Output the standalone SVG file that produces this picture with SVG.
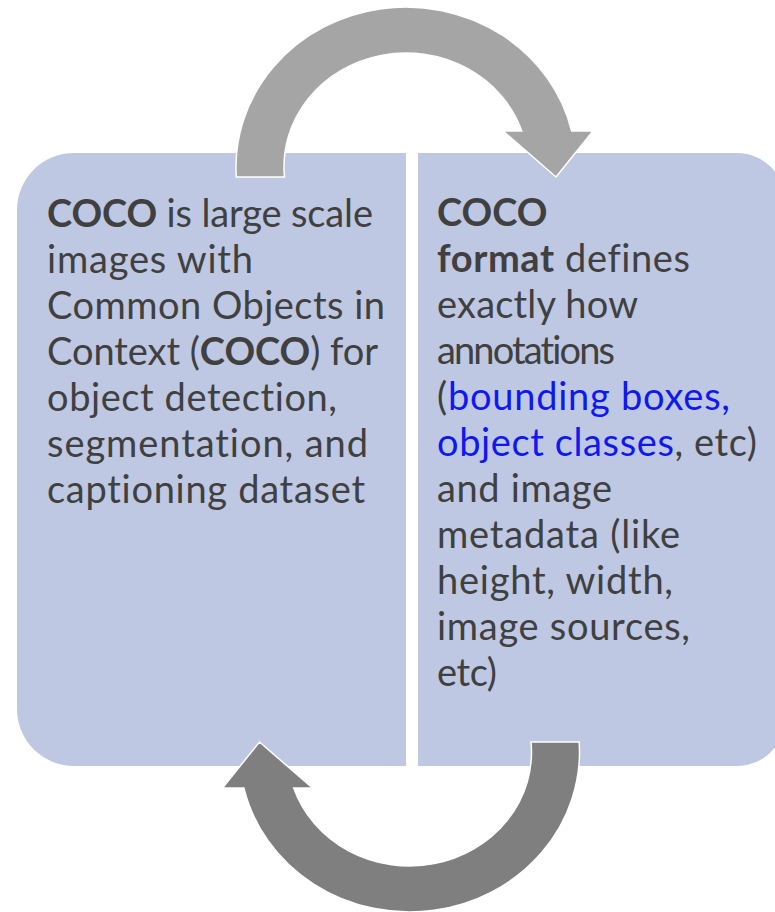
<svg xmlns="http://www.w3.org/2000/svg" width="775" height="912" viewBox="0 0 775 912">
  <style>
    .panel { fill: #BEC8E2; }
    .txt { font-family: Lato, "Open Sans", "Liberation Sans", sans-serif; font-size: 38px; fill: #404040; font-variant-ligatures: none; }
    .b { font-weight: bold; }
    .link { fill: #0F18F0; }
    .arrow { stroke: #FFFFFF; stroke-width: 1.5; stroke-linejoin: miter; }
  </style>
  <defs>
    <!-- curved block arrow, drawn round its own ellipse centre -->
    <path id="arc-arrow" d="M -169.67,10 A 170 160 0 0 1 165.64,-36 L 187,-36 L 150,10 L 97,-36 L 115.76,-36 A 122 114 0 0 0 -121.53,10 Z"/>
  </defs>

  <g id="node-coco-dataset">
    <path class="panel" d="M 74,153 H 406 V 766 H 74 A 57 57 0 0 1 17,709 V 210 A 57 57 0 0 1 74,153 Z"/>
    <text class="txt" x="47" y="227" textLength="326" lengthAdjust="spacing"><tspan class="b">COCO</tspan> is large scale</text>
    <text class="txt" x="47" y="273" textLength="206" lengthAdjust="spacing">images with</text>
    <text class="txt" x="47" y="319" textLength="338" lengthAdjust="spacing">Common Objects in</text>
    <text class="txt" x="47" y="365" textLength="331" lengthAdjust="spacing">Context (<tspan class="b">COCO</tspan>) for</text>
    <text class="txt" x="47" y="411" textLength="290" lengthAdjust="spacing">object detection,</text>
    <text class="txt" x="47" y="457" textLength="321" lengthAdjust="spacing">segmentation, and</text>
    <text class="txt" x="47" y="503" textLength="318" lengthAdjust="spacing">captioning dataset</text>
  </g>

  <g id="node-coco-format">
    <path class="panel" d="M 418,153 H 737 A 48 48 0 0 1 785,201 V 718 A 48 48 0 0 1 737,766 H 418 Z"/>
    <text class="txt b" x="437" y="226">COCO</text>
    <text class="txt" x="437" y="272" textLength="253" lengthAdjust="spacing"><tspan class="b">format</tspan> defines</text>
    <text class="txt" x="437" y="318" textLength="201" lengthAdjust="spacing">exactly how</text>
    <text class="txt" x="437" y="364" textLength="178" lengthAdjust="spacing">annotations</text>
    <text class="txt" x="437" y="410" textLength="293" lengthAdjust="spacing">(<tspan class="link">bounding boxes,</tspan></text>
    <text class="txt" x="437" y="456" textLength="320" lengthAdjust="spacing"><tspan class="link">object classes</tspan>, etc)</text>
    <text class="txt" x="437" y="502" textLength="175" lengthAdjust="spacing">and image</text>
    <text class="txt" x="437" y="548" textLength="243" lengthAdjust="spacing">metadata (like</text>
    <text class="txt" x="437" y="594" textLength="236" lengthAdjust="spacing">height, width,</text>
    <text class="txt" x="437" y="640" textLength="253" lengthAdjust="spacing">image sources,</text>
    <text class="txt" x="437" y="686" textLength="60" lengthAdjust="spacing">etc)</text>
  </g>

  <g id="connectors">
    <use href="#arc-arrow" class="arrow" fill="#A5A5A5" transform="translate(406,167)"/>
    <use href="#arc-arrow" class="arrow" fill="#7F7F7F" transform="translate(409.5,752) rotate(180)"/>
  </g>
</svg>
